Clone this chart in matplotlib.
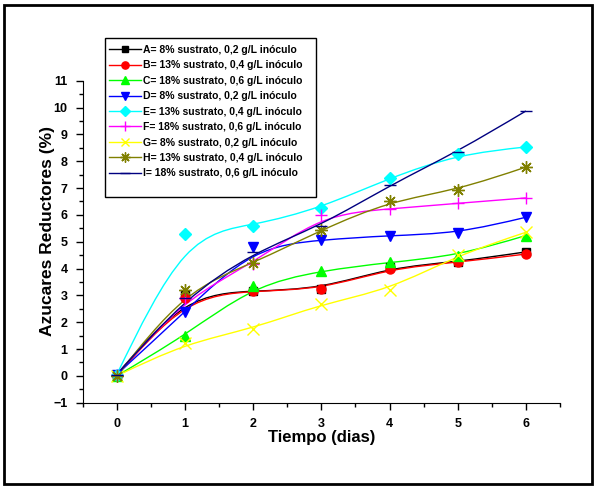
import numpy as np
import matplotlib
matplotlib.use('Agg')
import matplotlib.pyplot as plt
from matplotlib.path import Path
from matplotlib.patches import PathPatch, Rectangle
from matplotlib.lines import Line2D

plt.rcParams['font.family'] = ['Liberation Sans', 'DejaVu Sans']
plt.rcParams['font.weight'] = 'bold'

dias = [0, 1, 2, 3, 4, 5, 6]

serie_a = [0.05, 3.00, 3.17, 3.24, 4.04, 4.25, 4.62]
serie_b = [0.00, 2.92, 3.17, 3.22, 4.00, 4.23, 4.54]
serie_c = [0.00, 1.50, 3.36, 3.92, 4.23, 4.48, 5.23]
serie_d = [0.05, 2.39, 4.79, 5.07, 5.23, 5.31, 5.91]
serie_e = [0.05, 5.27, 5.60, 6.26, 7.38, 8.25, 8.53]
serie_f = [0.05, 2.90, 4.18, 6.01, 6.22, 6.43, 6.63]
serie_g = [0.00, 1.21, 1.76, 2.68, 3.21, 4.50, 5.35]
serie_h = [0.00, 3.20, 4.19, 5.44, 6.51, 6.93, 7.78]
serie_i = [0.05, 2.90, 4.60, 5.60, 7.10, 8.36, 9.87]

etiquetas = [
    'A= 8% sustrato, 0,2 g/L inóculo',
    'B= 13% sustrato, 0,4 g/L inóculo',
    'C= 18% sustrato, 0,6 g/L inóculo',
    'D= 8% sustrato, 0,2 g/L inóculo',
    'E= 13% sustrato, 0,4 g/L inóculo',
    'F= 18% sustrato, 0,6 g/L inóculo',
    'G= 8% sustrato, 0,2 g/L inóculo',
    'H= 13% sustrato, 0,4 g/L inóculo',
    'I= 18% sustrato, 0,6 g/L inóculo',
]

series = [serie_a, serie_b, serie_c, serie_d, serie_e,
          serie_f, serie_g, serie_h, serie_i]
colores = ['#000000', '#FF0000', '#00FF00', '#0000FF', '#00FFFF',
           '#FF00FF', '#FFFF00', '#808000', '#000080']
marcadores = ['s', 'o', '^', 'v', 'D', '+', 'x', (8, 2, 0), '_']
tamanos = [6, 6.5, 7.5, 7.5, 6.5, 9, 8, 9, 9]


def curva_bspline(x, y):
    # B-spline cubica uniforme (como el "B-Spline" de Origin), extremos fijos
    p = np.column_stack([x, y]).astype(float)
    p = np.vstack([2 * p[0] - p[1], p, 2 * p[-1] - p[-2]])
    verts = [(p[0] + 4 * p[1] + p[2]) / 6]
    codes = [Path.MOVETO]
    for i in range(1, len(p) - 2):
        a, b, c, d = p[i - 1], p[i], p[i + 1], p[i + 2]
        verts += [(2 * b + c) / 3, (b + 2 * c) / 3, (b + 4 * c + d) / 6]
        codes += [Path.CURVE4] * 3
    return Path(verts, codes)


W, H = 597, 486
fig = plt.figure(figsize=(W / 100, H / 100), dpi=100)
ax = fig.add_axes([0.1385, 0.1714, 0.7995, 0.6626])

handles = []
for vals, col, mk, ms in zip(series, colores, marcadores, tamanos):
    ax.add_patch(PathPatch(curva_bspline(dias, vals), fill=False,
                           edgecolor=col, lw=1.0))
    ax.plot(dias, vals, ls='none', marker=mk, ms=ms, color=col,
            markeredgecolor=col, mew=1.0)
    handles.append(Line2D([], [], color=col, marker=mk, ms=ms * 0.8,
                          lw=1.0, mew=1.0))

ax.set_xlim(-0.5, 6.5)
ax.set_ylim(-1, 11)
ax.set_xticks(range(0, 7))
ax.set_xticks(np.arange(-0.5, 6.6, 0.5), minor=True)
ax.set_yticks(range(-1, 12))
ax.set_yticks(np.arange(-1, 11.1, 0.5), minor=True)
ax.tick_params(which='major', direction='out', length=5, width=1,
               labelsize=9, pad=6)
ax.tick_params(which='minor', direction='out', length=3, width=1)
for lab in ax.get_xticklabels() + ax.get_yticklabels():
    lab.set_fontweight('bold')

ax.spines['top'].set_visible(False)
ax.spines['right'].set_visible(False)

ax.set_xlabel('Tiempo (dias)', fontsize=12, fontweight='bold', labelpad=0)
ax.set_ylabel('Azucares Reductores (%)', fontsize=12.5, fontweight='bold')
ax.yaxis.set_label_coords(-0.057, 0.532)

# recuadro de la leyenda (Origin deja mas espacio abajo)
fig.patches.append(Rectangle((105 / W, 1 - 197 / H), 211 / W, 159 / H,
                             transform=fig.transFigure, fill=False,
                             edgecolor='black', lw=1.0))
leg = fig.legend(handles, etiquetas, loc='upper left',
                 bbox_to_anchor=(109 / W, 1 - 45 / H),
                 prop={'size': 7.5, 'weight': 'bold'}, frameon=False,
                 handlelength=3.1, handletextpad=0.15,
                 labelspacing=0.52, borderpad=0, borderaxespad=0)

# marco exterior
fig.patches.append(Rectangle((4 / W, 2 / H), 588 / W, 479 / H,
                             transform=fig.transFigure, fill=False,
                             edgecolor='black', lw=2))

fig.savefig('out.png', dpi=100)
